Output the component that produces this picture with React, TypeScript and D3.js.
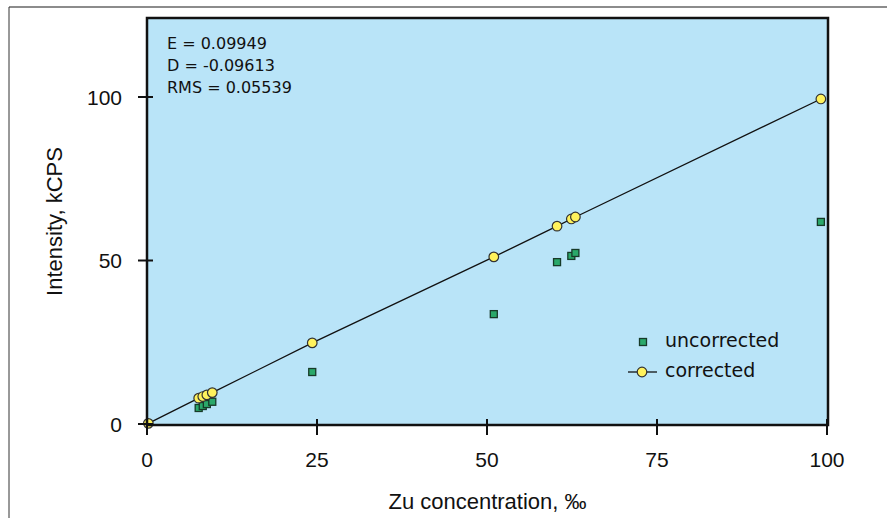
import { scaleLinear, line } from "d3";

const width = 887;
const height = 518;

// concentration, per mille
const concentration = [0.2, 7.6, 8.2, 8.8, 9.6, 24.3, 51.0, 60.3, 62.4, 63.0, 99.1];
// intensities, kCPS
const corrected = [0.2, 7.9, 8.4, 8.9, 9.6, 24.8, 51.1, 60.5, 62.7, 63.3, 99.4];
const uncorrected = [null, 4.9, 5.5, 6.1, 6.8, 15.9, 33.6, 49.5, 51.4, 52.3, 61.8];

const xTicks = [0, 25, 50, 75, 100];
const yTicks = [0, 50, 100];
const stats = ["E = 0.09949", "D = -0.09613", "RMS = 0.05539"];

const box = { left: 147, top: 18, right: 828, bottom: 425 };

const sansFont = '"Liberation Sans", Arial, Helvetica, sans-serif';
const humanFont = '"DejaVu Sans", Verdana, sans-serif';

const bg = "#b9e4f8";
const green = "#2aa86a";
const yellow = "#fff25c";

function App() {
  const xScale = scaleLinear().domain([0, 100]).range([147, 827]);
  const yScale = scaleLinear().domain([0, 100]).range([424, 97]);

  const points = concentration.map((x, i) => ({
    x,
    c: corrected[i],
    u: uncorrected[i],
  }));

  const path = line<{ x: number; c: number }>()
    .x((d) => xScale(d.x))
    .y((d) => yScale(d.c))([...points].sort((a, b) => a.x - b.x));

  const sq = 7;

  return (
    <div style={{ position: "absolute", left: 0, top: 0 }}>
      <svg width={width} height={height} style={{ display: "block" }}>
        <rect width={width} height={height} fill="white" />
        {/* outer frame */}
        <line x1={9} x2={width} y1={7} y2={7} stroke="#666" strokeWidth={1.5} />
        <line x1={9} x2={9} y1={7} y2={height} stroke="#333" strokeWidth={1} />

        {/* plot area */}
        <rect
          x={box.left}
          y={box.top}
          width={box.right - box.left}
          height={box.bottom - box.top}
          fill={bg}
        />

        <path d={path ?? ""} fill="none" stroke="#111" strokeWidth={1.3} />

        {points
          .filter((d) => d.u !== null)
          .map((d, i) => (
            <rect
              key={"u" + i}
              x={xScale(d.x) - sq / 2}
              y={yScale(d.u as number) - sq / 2}
              width={sq}
              height={sq}
              fill={green}
              stroke="#173a28"
              strokeWidth={1.3}
            />
          ))}
        {points.map((d, i) => (
          <circle
            key={"c" + i}
            cx={xScale(d.x)}
            cy={yScale(d.c)}
            r={4.8}
            fill={yellow}
            stroke="#333"
            strokeWidth={1.2}
          />
        ))}

        <rect
          x={box.left}
          y={box.top}
          width={box.right - box.left}
          height={box.bottom - box.top}
          fill="none"
          stroke="#111"
          strokeWidth={2.5}
        />

        {yTicks.map((t) => (
          <g key={t}>
            <line
              x1={box.left - 9}
              x2={box.left + 6}
              y1={yScale(t)}
              y2={yScale(t)}
              stroke="#111"
              strokeWidth={2}
            />
            <text
              x={122}
              y={yScale(t)}
              dy="0.36em"
              textAnchor="end"
              fontFamily={sansFont}
              fontSize={21}
              fill="#111"
            >
              {t}
            </text>
          </g>
        ))}
        {xTicks.map((t) => (
          <g key={t}>
            <line
              x1={xScale(t)}
              x2={xScale(t)}
              y1={box.bottom - 6}
              y2={box.bottom + 10}
              stroke="#111"
              strokeWidth={2}
            />
            <text
              x={xScale(t)}
              y={467}
              textAnchor="middle"
              fontFamily={sansFont}
              fontSize={21}
              fill="#111"
            >
              {t}
            </text>
          </g>
        ))}

        {stats.map((s, i) => (
          <text
            key={s}
            x={167}
            y={49 + i * 22}
            fontFamily={humanFont}
            fontSize={16}
            fill="#111"
          >
            {s}
          </text>
        ))}

        {/* legend */}
        <rect
          x={643 - sq / 2}
          y={342 - sq / 2}
          width={sq}
          height={sq}
          fill={green}
          stroke="#173a28"
          strokeWidth={1.3}
        />
        <text x={665} y={347} fontFamily={humanFont} fontSize={19} fill="#111">
          uncorrected
        </text>
        <line x1={628} x2={657} y1={372} y2={372} stroke="#111" strokeWidth={1.3} />
        <circle cx={642} cy={372} r={4.8} fill={yellow} stroke="#333" strokeWidth={1.2} />
        <text x={665} y={377} fontFamily={humanFont} fontSize={19} fill="#111">
          corrected
        </text>

        {/* axis titles */}
        <text
          x={(box.left + box.right) / 2}
          y={509}
          textAnchor="middle"
          fontFamily={sansFont}
          fontSize={22}
          fill="#111"
        >
          Zu concentration, ‰
        </text>
        <text
          transform={`translate(62, ${(box.top + box.bottom) / 2}) rotate(-90)`}
          textAnchor="middle"
          fontFamily={sansFont}
          fontSize={22}
          fill="#111"
        >
          Intensity, kCPS
        </text>
      </svg>
    </div>
  );
}

export default App;
